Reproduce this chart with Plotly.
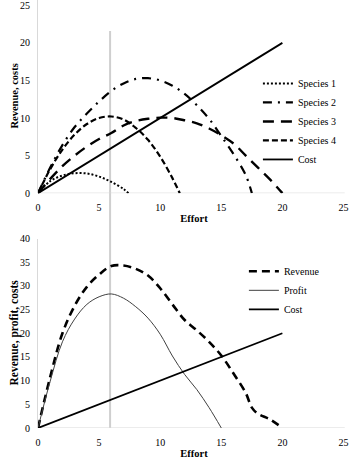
import plotly.graph_objects as go

# ---------------- data ----------------
effort_s1 = [0, 1, 2, 3, 4, 5, 6, 7, 7.4]
species1 = [0, 1.6, 2.35, 2.65, 2.62, 2.2, 1.5, 0.55, 0]

effort_s2 = [0, 1, 2, 3, 4, 5, 6, 7, 8, 9, 10, 11, 12, 13, 14, 15, 16, 17, 17.5]
species2 = [0, 3.4, 6.4, 8.8, 10.6, 12.2, 13.6, 14.6, 15.2, 15.3, 15.0, 14.3, 13.2, 11.7, 9.9, 7.6, 5.2, 2.4, 0]

effort_s3 = [0, 1, 2, 3, 4, 5, 6, 7, 8, 9, 10, 11, 12, 13, 14, 15, 16, 17, 18, 19, 20]
species3 = [0, 1.9, 3.6, 5.0, 6.2, 7.2, 8.0, 9.0, 9.6, 9.9, 10.05, 10.0, 9.7, 9.3, 8.6, 7.7, 6.6, 5.0, 3.4, 1.8, 0]

effort_s4 = [0, 1, 2, 3, 4, 5, 6, 7, 8, 9, 10, 11, 11.6]
species4 = [0, 3.2, 5.8, 7.8, 9.2, 10.0, 10.2, 9.8, 8.7, 7.1, 4.85, 2.0, 0]

effort_cost = [0, 20]
cost = [0, 20]

effort_rev = [0, 1, 2, 3, 4, 5, 6, 7, 8, 9, 10, 11, 12, 13, 14, 15, 16, 17, 17.5, 18, 19, 20]
revenue = [0, 10.8, 20.0, 25.8, 29.8, 32.4, 34.2, 34.3, 33.6, 32.2, 29.5, 26.1, 22.8, 20.6, 18.2, 15.3, 11.5, 7.4, 4.3, 3.0, 1.8, 0]

effort_profit = [0, 1, 2, 3, 4, 5, 6, 7, 8, 9, 10, 11, 12, 13, 14, 15]
profit = [0, 9.9, 18.2, 23.0, 26.1, 27.7, 28.3, 27.4, 25.6, 23.2, 19.8, 15.2, 11.3, 8.1, 4.3, 0]

optimal_effort = 5.9
x_ticks = [0, 5, 10, 15, 20, 25]
top_y_ticks = [0, 5, 10, 15, 20, 25]
bottom_y_ticks = [0, 5, 10, 15, 20, 25, 30, 35, 40]
x_axis_end = 25.1

# ---------------- figure ----------------
SERIF = "Liberation Serif"
W, H = 350, 459
L, R, T, B = 38.3, 0, 0, 30.7
PH = H - T - B  # plot height in px
PW = W - L - R
PX_PER_EFFORT = 12.208
x_range_max = PW / PX_PER_EFFORT

fig = go.Figure()

def add(x, y, name, dash, width, color, xa, ya, legend):
    fig.add_trace(go.Scatter(
        x=x, y=y, name=name, mode="lines",
        line=dict(color=color, width=width, dash=dash, shape="spline", smoothing=1),
        xaxis=xa, yaxis=ya, legend=legend))

add(effort_s1, species1, "Species 1", "2px,2px", 2, "black", "x", "y", "legend")
add(effort_s2, species2, "Species 2", "9px,6px,2px,6px", 2.2, "black", "x", "y", "legend")
add(effort_s3, species3, "Species 3", "11px,7px", 2.4, "black", "x", "y", "legend")
add(effort_s4, species4, "Species 4", "6px,3px", 2.2, "black", "x", "y", "legend")
add(effort_cost, cost, "Cost", "solid", 1.8, "black", "x", "y", "legend")

add(effort_rev, revenue, "Revenue", "8px,5px", 2.6, "black", "x2", "y2", "legend2")
add(effort_profit, profit, "Profit", "solid", 1, "#404040", "x2", "y2", "legend2")
add(effort_cost, cost, "Cost", "solid", 1.8, "black", "x2", "y2", "legend2")

axis_common = dict(showgrid=False, zeroline=False, linecolor="#d9d9d9",
                   linewidth=1, ticks="outside", ticklen=5, tickcolor="rgba(0,0,0,0)",
                   automargin=False, ticklabeloverflow="allow",
                   tickfont=dict(family=SERIF, size=10, color="black"))

top_zero_px = 193.3
bot_top_px = 238.7
top_dom = [(T + PH - top_zero_px) / PH, 1.0]
bot_dom = [0, (T + PH - bot_top_px) / PH]
top_range_max = (top_zero_px - T) / 7.52

xtitle_font = dict(family=SERIF, size=10.5, color="black")

def paper_x(px):
    return (px - L) / PW

def paper_y(py):
    return (T + PH - py) / PH

fig.update_layout(
    width=W, height=H,
    margin=dict(l=L, r=R, t=T, b=B, autoexpand=False),
    paper_bgcolor="white", plot_bgcolor="white",
    showlegend=True,
    xaxis=dict(domain=[0, 1], anchor="y", range=[0, x_range_max], tickvals=x_ticks, showline=False,
               title=dict(text="<b>Effort</b>", font=xtitle_font, standoff=2),
               **axis_common),
    yaxis=dict(domain=top_dom, anchor="x", range=[0, top_range_max], tickvals=top_y_ticks,
               showline=True, **axis_common),
    xaxis2=dict(domain=[0, 1], anchor="y2", range=[0, x_range_max], tickvals=x_ticks, showline=False,
                title=dict(text="<b>Effort</b>", font=xtitle_font, standoff=2),
                **axis_common),
    yaxis2=dict(domain=bot_dom, anchor="x2", range=[0, 40], tickvals=bottom_y_ticks,
                showline=True, **axis_common),
    legend=dict(x=paper_x(258), y=paper_y(69), xanchor="left", yanchor="top",
                font=dict(family=SERIF, size=10, color="black"),
                bgcolor="rgba(0,0,0,0)", itemwidth=30, tracegroupgap=0),
    legend2=dict(x=paper_x(244), y=paper_y(257), xanchor="left", yanchor="top",
                 font=dict(family=SERIF, size=10, color="black"),
                 bgcolor="rgba(0,0,0,0)", itemwidth=30, tracegroupgap=0),
)

# x-axis baselines (light grey, ending just past 25 like the reference)
for xr, yr in (("x", "y"), ("x2", "y2")):
    fig.add_shape(type="line", xref=xr, yref=yr, x0=0, x1=x_axis_end, y0=0, y1=0,
                  line=dict(color="#d9d9d9", width=1), layer="below")

# y-axis titles placed as rotated annotations (pixel positions from the reference)
fig.add_annotation(text="<b>Revenue, costs</b>", xref="paper", yref="paper",
                   x=paper_x(15), y=paper_y(96), textangle=-90, showarrow=False,
                   xanchor="center", yanchor="middle",
                   font=dict(family=SERIF, size=10.5, color="black"))
fig.add_annotation(text="<b>Revenue, profit, costs</b>", xref="paper", yref="paper",
                   x=paper_x(15), y=paper_y(333), textangle=-90, showarrow=False,
                   xanchor="center", yanchor="middle",
                   font=dict(family=SERIF, size=11.5, color="black"))

fig.add_shape(type="line", xref="x", yref="paper", x0=optimal_effort, x1=optimal_effort,
              y0=0, y1=paper_y(31), line=dict(color="#cfcfcf", width=2), layer="below")

fig.write_html("out.html",
               config={"displayModeBar": False},
               post_script="document.body.style.margin='0';document.body.style.overflow='hidden';")
